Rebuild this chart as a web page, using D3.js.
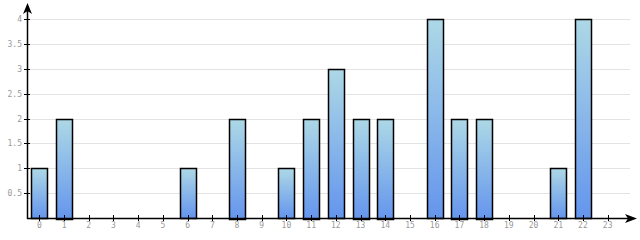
<!DOCTYPE html>
<html>
<head>
<meta charset="utf-8">
<script src="https://cdn.jsdelivr.net/npm/d3@7"></script>
<style>
  body { margin: 0; background: #fff; }
  .tickLabel { font-family: "DejaVu Sans Mono", monospace; font-size: 8px; fill: #999; }
</style>
</head>
<body>
<div id="chart"></div>
<script>
const WIDTH = 640;
const HEIGHT = 240;
const LEFT = 27;
const BASE = 218;
const TOP_VAL = 19;
const RIGHT = 620;

const hours = d3.range(0, 24).map(String);
const counts = [1, 2, 0, 0, 0, 0, 1, 0, 2, 0, 1, 2, 3, 2, 2, 0, 4, 2, 2, 0, 0, 1, 4, 0];
const yTicks = [0.5, 1, 1.5, 2, 2.5, 3, 3.5, 4];

let svg = d3.select('#chart').append('svg')
  .attr('width', WIDTH)
  .attr('height', HEIGHT);

let defs = svg.append('defs');
let grad = defs.append('linearGradient')
  .attr('id', 'barGrad')
  .attr('x1', 0).attr('y1', 0).attr('x2', 0).attr('y2', 1);
grad.append('stop').attr('offset', '0%').attr('stop-color', '#add8e6');
grad.append('stop').attr('offset', '100%').attr('stop-color', '#6495ed');

let xScale = d3.scaleBand()
  .domain(hours)
  .range([LEFT, RIGHT])
  .paddingInner(0.35)
  .paddingOuter(0.175);

let yScale = d3.scaleLinear()
  .domain([0, 4])
  .range([BASE, TOP_VAL]);

// grid
svg.append('g').selectAll('line')
  .data(yTicks)
  .enter()
  .append('line')
  .attr('x1', LEFT)
  .attr('x2', 630)
  .attr('y1', (d) => Math.round(yScale(d)) + 0.5)
  .attr('y2', (d) => Math.round(yScale(d)) + 0.5)
  .attr('stroke', '#e3e3e3')
  .attr('stroke-width', 1);

// bars
svg.append('g').selectAll('rect')
  .data(counts.map((v, i) => ({hour: hours[i], v})).filter((d) => d.v > 0))
  .enter()
  .append('rect')
  .attr('x', (d) => Math.round(xScale(d.hour)) + 0.5)
  .attr('y', (d) => Math.round(yScale(d.v)) + 0.5)
  .attr('width', Math.round(xScale.bandwidth()))
  .attr('height', (d) => Math.round(BASE - yScale(d.v)))
  .attr('fill', 'url(#barGrad)')
  .attr('stroke', '#000')
  .attr('stroke-width', 1.5);

// y ticks
let yAxis = svg.append('g');
yAxis.selectAll('line')
  .data(yTicks)
  .enter()
  .append('line')
  .attr('x1', LEFT - 3)
  .attr('x2', LEFT + 3)
  .attr('y1', (d) => Math.round(yScale(d)) + 0.5)
  .attr('y2', (d) => Math.round(yScale(d)) + 0.5)
  .attr('stroke', '#000');
yAxis.selectAll('text')
  .data(yTicks)
  .enter()
  .append('text')
  .attr('class', 'tickLabel')
  .attr('x', LEFT - 5)
  .attr('y', (d) => yScale(d) + 3)
  .attr('text-anchor', 'end')
  .text((d) => d);

// x ticks
let xAxis = svg.append('g');
xAxis.selectAll('line')
  .data(hours)
  .enter()
  .append('line')
  .attr('x1', (d) => Math.round(xScale(d) + xScale.bandwidth() / 2) + 0.5)
  .attr('x2', (d) => Math.round(xScale(d) + xScale.bandwidth() / 2) + 0.5)
  .attr('y1', BASE - 3)
  .attr('y2', BASE + 3)
  .attr('stroke', '#000');
xAxis.selectAll('text')
  .data(hours)
  .enter()
  .append('text')
  .attr('class', 'tickLabel')
  .attr('x', (d) => xScale(d) + xScale.bandwidth() / 2)
  .attr('y', BASE + 10)
  .attr('text-anchor', 'middle')
  .text((d) => d);

// axis lines with arrows
svg.append('line')
  .attr('x1', LEFT + 0.5).attr('x2', LEFT + 0.5)
  .attr('y1', BASE + 1).attr('y2', 6)
  .attr('stroke', '#000').attr('stroke-width', 1.5);
svg.append('line')
  .attr('x1', LEFT).attr('x2', 632)
  .attr('y1', BASE + 0.5).attr('y2', BASE + 0.5)
  .attr('stroke', '#000').attr('stroke-width', 1.5);

svg.append('path')
  .attr('d', `M${LEFT + 0.5},3 L${LEFT + 5},14 L${LEFT + 0.5},11 L${LEFT - 4},14 Z`)
  .attr('fill', '#000');
svg.append('path')
  .attr('d', `M637,${BASE + 0.5} L625,${BASE - 4} L628,${BASE + 0.5} L625,${BASE + 5} Z`)
  .attr('fill', '#000');
</script>
</body>
</html>
